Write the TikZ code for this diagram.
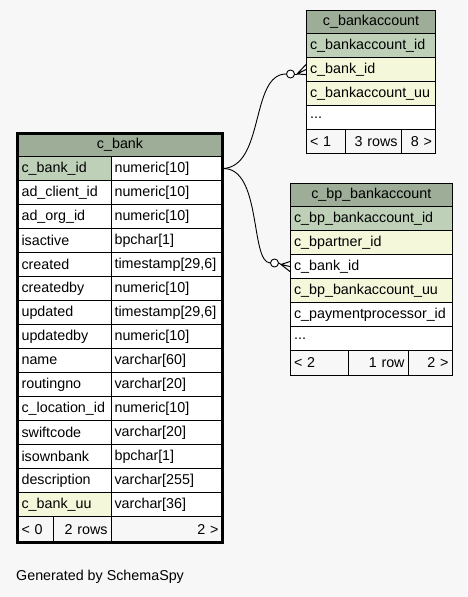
\documentclass[tikz,border=0pt]{standalone}
\usepackage{fontspec}
\setmainfont{Liberation Sans}
\definecolor{bg}{HTML}{F7F7F7}
\definecolor{hdr}{HTML}{9DAD98}
\definecolor{pk}{HTML}{BED1B8}
\definecolor{fk}{HTML}{F4F7DA}
\tikzset{
  cellbox/.style={draw=black, line width=1.1pt, inner xsep=3.5pt, inner ysep=0pt, anchor=north west, font=\fontsize{14.3}{16}\selectfont},
}
% \cellnode{name}{x}{y}{w}{h}{fill}{align}{text}
\newcommand{\cellnode}[8]{%
  \pgfmathsetmacro\celltw{#4-7}%
  \node[cellbox, fill=#6, text width=\celltw pt, minimum height=#5pt, align=#7] (#1) at (#2,#3) {#8};%
}
\begin{document}
\begin{tikzpicture}[x=1pt,y=-1pt]
\fill[bg] (0,0) rectangle (467,597);
\useasboundingbox (0,0) rectangle (467,597);

% ---------- c_bank ----------
\cellnode{bk_h}{17.5}{133}{204}{23}{hdr}{center}{c\_bank}
\def\bkrow#1#2#3#4#5{%
  \pgfmathsetmacro\ry{156+24*#1}%
  \cellnode{bk_n#1}{17.5}{\ry}{93}{24}{#4}{left}{#2}%
  \cellnode{bk_t#1}{110.5}{\ry}{111}{24}{white}{left}{#3}%
}
\bkrow{0}{c\_bank\_id}{numeric[10]}{pk}{}
\bkrow{1}{ad\_client\_id}{numeric[10]}{white}{}
\bkrow{2}{ad\_org\_id}{numeric[10]}{white}{}
\bkrow{3}{isactive}{bpchar[1]}{white}{}
\bkrow{4}{created}{timestamp[29,6]}{white}{}
\bkrow{5}{createdby}{numeric[10]}{white}{}
\bkrow{6}{updated}{timestamp[29,6]}{white}{}
\bkrow{7}{updatedby}{numeric[10]}{white}{}
\bkrow{8}{name}{varchar[60]}{white}{}
\bkrow{9}{routingno}{varchar[20]}{white}{}
\bkrow{10}{c\_location\_id}{numeric[10]}{white}{}
\bkrow{11}{swiftcode}{varchar[20]}{white}{}
\bkrow{12}{isownbank}{bpchar[1]}{white}{}
\bkrow{13}{description}{varchar[255]}{white}{}
\bkrow{14}{c\_bank\_uu}{varchar[36]}{fk}{}
\cellnode{bk_f1}{17.5}{516}{35.5}{25.5}{bg}{left}{< 0}
\cellnode{bk_f2}{53}{516}{57.5}{25.5}{bg}{right}{2 rows}
\cellnode{bk_f3}{110.5}{516}{111}{25.5}{bg}{right}{2 >}
\draw[line width=3pt] (bk_h.north west) rectangle (bk_f3.south east);

% ---------- c_bankaccount ----------
\cellnode{ba_h}{306}{10}{129}{23}{hdr}{center}{c\_bankaccount}
\cellnode{ba_1}{306}{33}{129}{24}{pk}{left}{c\_bankaccount\_id}
\cellnode{ba_2}{306}{57}{129}{24}{fk}{left}{c\_bank\_id}
\cellnode{ba_3}{306}{81}{129}{24}{fk}{left}{c\_bankaccount\_uu}
\cellnode{ba_4}{306}{105}{129}{24}{white}{left}{...}
\cellnode{ba_f1}{306}{129}{39}{24}{bg}{left}{< 1}
\cellnode{ba_f2}{345}{129}{55.5}{24}{bg}{right}{3 rows}
\cellnode{ba_f3}{400.5}{129}{34.5}{24}{bg}{right}{8 >}

% ---------- c_bp_bankaccount ----------
\cellnode{bp_h}{290}{183}{161.5}{23}{hdr}{center}{c\_bp\_bankaccount}
\cellnode{bp_1}{290}{206}{161.5}{24}{pk}{left}{c\_bp\_bankaccount\_id}
\cellnode{bp_2}{290}{230}{161.5}{24}{fk}{left}{c\_bpartner\_id}
\cellnode{bp_3}{290}{254}{161.5}{24}{white}{left}{c\_bank\_id}
\cellnode{bp_4}{290}{278}{161.5}{24}{fk}{left}{c\_bp\_bankaccount\_uu}
\cellnode{bp_5}{290}{302}{161.5}{24}{white}{left}{c\_paymentprocessor\_id}
\cellnode{bp_6}{290}{326}{161.5}{24}{white}{left}{...}
\cellnode{bp_f1}{290}{350}{57.5}{24.5}{bg}{left}{< 2}
\cellnode{bp_f2}{347.5}{350}{60}{24.5}{bg}{right}{1 row}
\cellnode{bp_f3}{407.5}{350}{44}{24.5}{bg}{right}{2 >}

% ---------- connectors ----------
\tikzset{zero/.style={circle, draw=black, fill=white, line width=0.9pt, inner sep=0pt, minimum size=8pt}}
\node[zero] (o1) at (290.5,74) {};
\node[zero] (o2) at (274.5,263) {};
\coordinate (c1) at (297,74);
\coordinate (c2) at (281,264.5);
\draw[line width=0.9pt] (bk_t0.east) .. controls (265,167) and (250,74) .. (o1.west);
\draw[line width=0.9pt] (bk_t0.east) .. controls (262,167) and (250,262) .. (o2.west);
\draw[line width=0.9pt] (o1.east) -- (c1);
\draw[line width=0.9pt] (o2.east) -- (c2);
\draw[line width=1pt] (c1) -- ([yshift=-5pt]ba_2.west) (c1) -- (ba_2.west) (c1) -- ([yshift=5pt]ba_2.west);
\draw[line width=1pt] (c2) -- ([yshift=-5pt]bp_3.west) (c2) -- (bp_3.west) (c2) -- ([yshift=5pt]bp_3.west);

\node[anchor=west, inner sep=0pt, font=\fontsize{14.3}{16}\selectfont] (gen) at (16,577) {Generated by SchemaSpy};
\end{tikzpicture}
\end{document}
